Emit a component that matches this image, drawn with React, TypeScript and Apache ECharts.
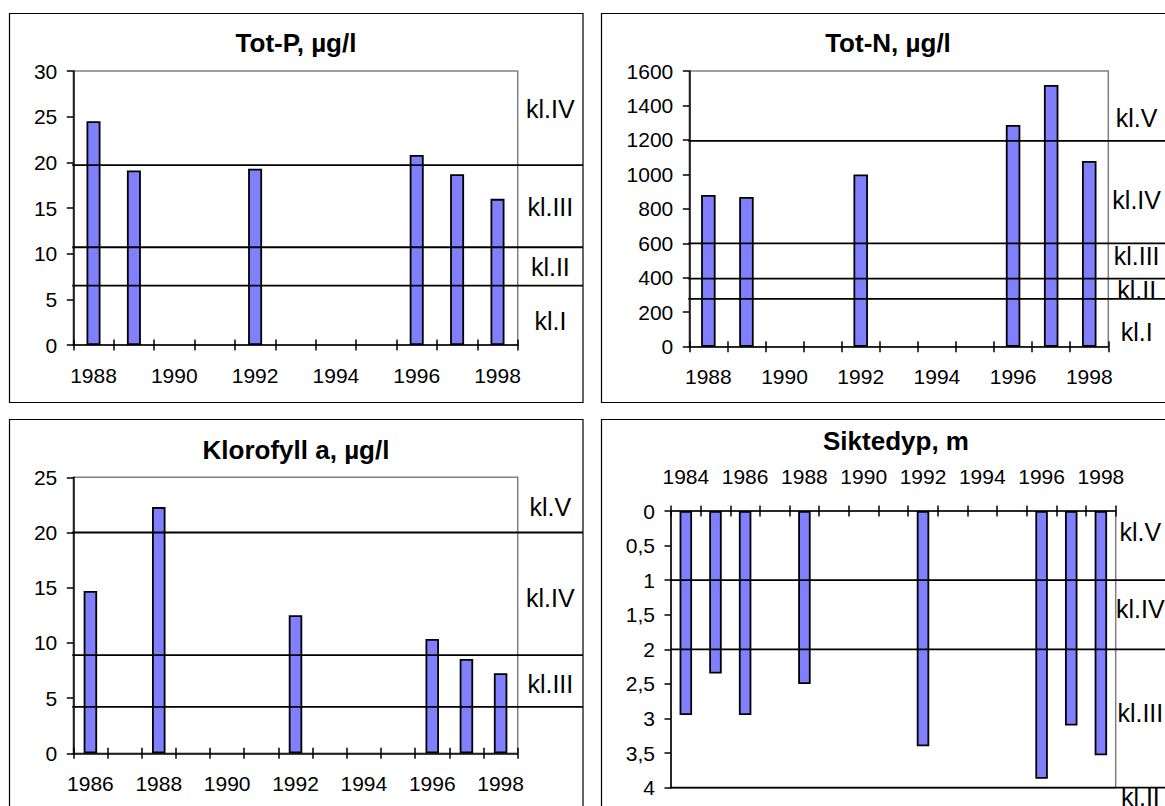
import React, { useEffect, useRef } from "react";
import * as echarts from "echarts";

const FONT = "'Liberation Sans', Arial, Helvetica, sans-serif";

// ---- Tot-P ----
const totPYears = ["1988", "1989", "1990", "1991", "1992", "1993", "1994", "1995", "1996", "1997", "1998"];
const totPValues = [24.5, 19.1, null, null, 19.3, null, null, null, 20.8, 18.7, 16.0];
const totPLimits = [19.7, 10.7, 6.5];
const totPClassNames = ["kl.IV", "kl.III", "kl.II", "kl.I"];
const totPClassAt = [25.8, 15.1, 8.5, 2.6];

// ---- Tot-N ----
const totNYears = ["1988", "1989", "1990", "1991", "1992", "1993", "1994", "1995", "1996", "1997", "1998"];
const totNValues = [880, 869, null, null, 1000, null, null, null, 1287, 1519, 1078];
const totNLimits = [1195, 600, 395, 278];
const totNClassNames = ["kl.V", "kl.IV", "kl.III", "kl.II", "kl.I"];
const totNClassAt = [1330, 851, 526, 329, 87];

// ---- Klorofyll a ----
const klfYears = ["1986", "1987", "1988", "1989", "1990", "1991", "1992", "1993", "1994", "1995", "1996", "1997", "1998"];
const klfValues = [14.7, null, 22.3, null, null, null, 12.5, null, null, null, 10.35, 8.55, 7.25];
const klfLimits = [20, 8.9, 4.2];
const klfClassNames = ["kl.V", "kl.IV", "kl.III"];
const klfClassAt = [22.3, 14.1, 6.3];

// ---- Siktedyp ----
const sdYears = ["1984", "1985", "1986", "1987", "1988", "1989", "1990", "1991", "1992", "1993", "1994", "1995", "1996", "1997", "1998"];
const sdValues = [2.95, 2.35, 2.95, null, 2.5, null, null, null, 3.4, null, null, null, 3.87, 3.1, 3.53];
const sdLimits = [1, 2, 4];
const sdClassNames = ["kl.V", "kl.IV", "kl.III", "kl.II"];
const sdClassAt = [0.3, 1.41, 2.92, 4.13];

type Panel = {
  title: string;
  titleX: number;
  titleTop: number;
  box: number[];
  plot: number[];
  years: string[];
  values: (number | null)[];
  min: number;
  max: number;
  interval: number;
  inverse?: boolean;
  limits: number[];
  classNames: string[];
  classAt: number[];
  barWidth: number;
  fmt: (v: number) => string;
};

const plain = (v: number) => String(v);

const panels: Panel[] = [
  {
    title: "Tot-P, µg/l", titleX: 296, titleTop: 30,
    box: [9.5, 13.5, 573.5, 389], plot: [73.3, 71, 444.4, 274],
    years: totPYears, values: totPValues, min: 0, max: 30, interval: 5,
    limits: totPLimits, classNames: totPClassNames, classAt: totPClassAt, barWidth: 14, fmt: plain,
  },
  {
    title: "Tot-N, µg/l", titleX: 888, titleTop: 30,
    box: [601.5, 13.5, 574, 389], plot: [689.3, 71, 419, 275.7],
    years: totNYears, values: totNValues, min: 0, max: 1600, interval: 200,
    limits: totNLimits, classNames: totNClassNames, classAt: totNClassAt, barWidth: 14.5, fmt: plain,
  },
  {
    title: "Klorofyll a, µg/l", titleX: 296, titleTop: 436.6,
    box: [9.5, 419.5, 573.5, 389], plot: [73.3, 477.3, 444.4, 276],
    years: klfYears, values: klfValues, min: 0, max: 25, interval: 5,
    limits: klfLimits, classNames: klfClassNames, classAt: klfClassAt, barWidth: 13.5, fmt: plain,
  },
  {
    title: "Siktedyp, m", titleX: 896, titleTop: 428.3,
    box: [601.5, 419.5, 574, 389], plot: [671, 511, 444.7, 276.7],
    years: sdYears, values: sdValues, min: 0, max: 4, interval: 0.5, inverse: true,
    limits: sdLimits, classNames: sdClassNames, classAt: sdClassAt, barWidth: 12.5,
    fmt: (v: number) => String(v).replace(".", ","),
  },
];

function buildOption() {
  const grid: any[] = [];
  const xAxis: any[] = [];
  const yAxis: any[] = [];
  const series: any[] = [];
  const title: any[] = [];
  const graphic: any[] = [];
  const dark = { color: "#000", width: 1.5 };

  panels.forEach((p) => {
    const [bx, by, bw, bh] = p.box;
    const [pl, pt, pw, ph] = p.plot;
    const boxRight = bx + bw;
    const g0 = grid.length;
    grid.push({ left: pl, top: pt, width: pw, height: ph, show: true, borderColor: "#808080", borderWidth: 1.5, backgroundColor: "transparent" });
    grid.push({ left: pl - 1, top: pt, width: boxRight - (pl - 1), height: ph, show: false });
    grid.push({ left: pl + pw, top: pt, width: boxRight - (pl + pw), height: ph, show: false });

    const xPos = p.inverse ? "top" : "bottom";
    const xMain = xAxis.length;
    xAxis.push({
      type: "category", gridIndex: g0, data: p.years, position: xPos, boundaryGap: true,
      axisLine: { show: true, lineStyle: dark },
      axisTick: { show: true, interval: 0, inside: false, length: 5.5, lineStyle: dark },
      axisLabel: { interval: 1, color: "#000", fontFamily: FONT, fontSize: 21, margin: p.inverse ? 24 : 19.5 },
      splitLine: { show: false },
    });
    xAxis.push({
      type: "category", gridIndex: g0, data: p.years, position: xPos, boundaryGap: true,
      axisLine: { show: false },
      axisTick: { show: true, interval: 0, inside: true, length: 5.5, lineStyle: dark },
      axisLabel: { show: false },
      splitLine: { show: false },
    });
    const xOver = xAxis.length;
    xAxis.push({ type: "value", gridIndex: g0 + 1, min: 0, max: 1, show: false });
    const xLab = xAxis.length;
    xAxis.push({ type: "category", gridIndex: g0 + 2, data: [""], show: false });

    const yMain = yAxis.length;
    yAxis.push({
      type: "value", gridIndex: g0, min: p.min, max: p.max, interval: p.interval, inverse: !!p.inverse,
      axisLine: { show: true, lineStyle: dark },
      axisTick: { show: true, inside: false, length: 6.5, lineStyle: dark },
      axisLabel: { color: "#000", fontFamily: FONT, fontSize: 21, margin: 16, formatter: p.fmt },
      splitLine: { show: false },
    });
    const yOver = yAxis.length;
    yAxis.push({ type: "value", gridIndex: g0 + 1, min: p.min, max: p.max, inverse: !!p.inverse, show: false });
    const yLab = yAxis.length;
    yAxis.push({ type: "value", gridIndex: g0 + 2, min: p.min, max: p.max, inverse: !!p.inverse, show: false });

    series.push({
      type: "bar", xAxisIndex: xMain, yAxisIndex: yMain, data: p.values, barWidth: p.barWidth,
      itemStyle: { color: "#8080FF", borderColor: "#000", borderWidth: 1.8 }, z: 2, silent: true,
    });

    p.limits.forEach((v) => {
      series.push({
        type: "line", xAxisIndex: xOver, yAxisIndex: yOver, data: [[0, v], [1, v]],
        symbol: "none", lineStyle: { color: "#000", width: 1.8 }, z: 4, silent: true, clip: false,
      });
    });

    series.push({
      type: "scatter", xAxisIndex: xLab, yAxisIndex: yLab, symbolSize: 1, clip: false, silent: true,
      itemStyle: { color: "rgba(0,0,0,0)", opacity: 1 },
      data: p.classNames.map((n, k) => ({ name: n, value: [0, p.classAt[k]] })),
      label: {
        show: true, position: "inside", formatter: "{b}", color: "#000", fontFamily: FONT, fontSize: 25,
        textBorderWidth: 0, textBorderColor: "transparent", opacity: 1,
      },
      z: 5,
    });

    title.push({
      text: p.title, left: p.titleX, top: p.titleTop, textAlign: "center", padding: 0,
      textStyle: { fontFamily: FONT, fontSize: 26, fontWeight: "bold", color: "#000" },
    });

    graphic.push({
      type: "rect", silent: true, z: 0,
      shape: { x: bx, y: by, width: bw, height: bh },
      style: { fill: "none", stroke: "#000", lineWidth: 1.2 },
    });
  });

  return { animation: false, backgroundColor: "#fff", title, grid, xAxis, yAxis, series, graphic };
}

export default function App() {
  const ref = useRef<HTMLDivElement>(null);
  useEffect(() => {
    if (!ref.current) return;
    const chart = echarts.init(ref.current, undefined, { renderer: "svg" });
    chart.setOption(buildOption() as any);
    return () => chart.dispose();
  }, []);
  return (
    <div
      ref={ref}
      style={{ position: "absolute", left: 0, top: 0, width: 1165, height: 806, background: "#fff" }}
    />
  );
}
